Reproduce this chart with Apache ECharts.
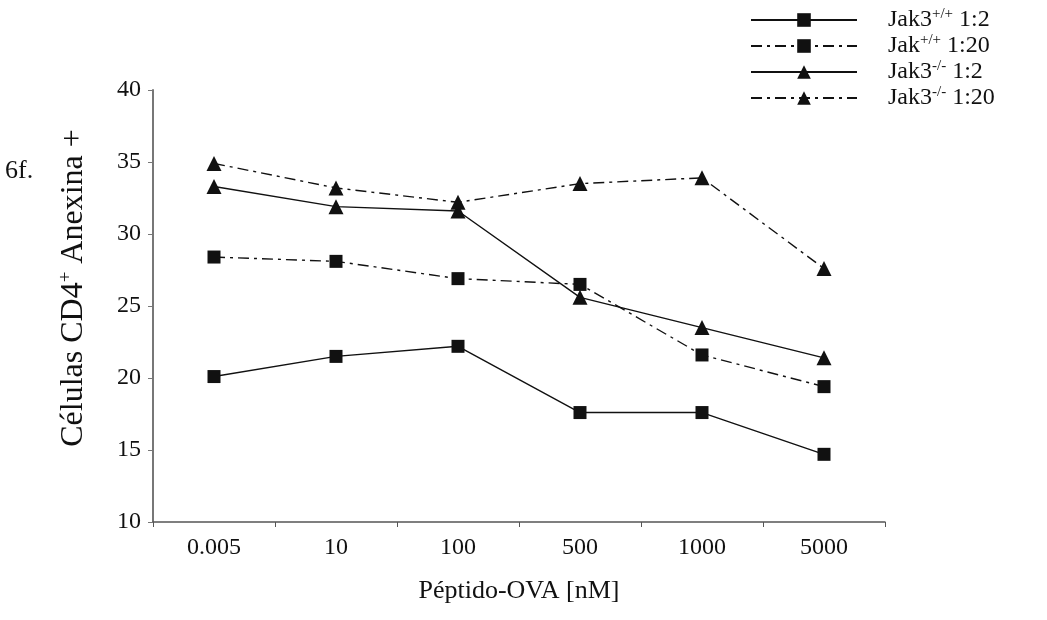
<!DOCTYPE html>
<html>
<head>
<meta charset="utf-8">
<script src="https://cdn.jsdelivr.net/npm/echarts@6/dist/echarts.min.js"></script>
<style>
  html, body { margin: 0; padding: 0; background: #fff; }
  #chart { width: 1047px; height: 620px; }
</style>
</head>
<body>
<div id="chart"></div>
<script>
// categories on the x axis (nM)
const doses = ['0.005', '10', '100', '500', '1000', '5000'];

// % CD4+ Annexin+ cells
const jak3wt_1_2  = [20.1, 21.5, 22.2, 17.6, 17.6, 14.7];
const jak3wt_1_20 = [28.4, 28.1, 26.9, 26.5, 21.6, 19.4];
const jak3ko_1_2  = [33.3, 31.9, 31.6, 25.6, 23.5, 21.4];
const jak3ko_1_20 = [34.9, 33.2, 32.2, 33.5, 33.9, 27.6];

const yTicks = [10, 15, 20, 25, 30, 35, 40];

const font = '"Liberation Serif", "DejaVu Serif", serif';
const dashDot = [11, 5, 3, 5];
const ink = '#111';

function makeSeries(name, data, symbol, dashed) {
  return {
    name: name,
    type: 'line',
    data: data,
    symbol: symbol,
    symbolSize: symbol === 'rect' ? 13 : 15,
    itemStyle: { color: ink },
    lineStyle: { color: ink, width: 1.4, type: dashed ? dashDot : 'solid' },
    animation: false
  };
}

const chart = echarts.init(document.getElementById('chart'));

chart.setOption({
  backgroundColor: '#fff',
  textStyle: { fontFamily: font },
  grid: { left: 153, right: 162, top: 90, bottom: 98 },
  legend: {
    orient: 'vertical',
    left: 745,
    top: 2,
    itemWidth: 106,
    itemHeight: 17,
    itemGap: 1,
    textStyle: {
      fontFamily: font, fontSize: 24, color: ink, padding: [0, 0, 0, 26],
      rich: {
        t: { fontFamily: font, fontSize: 24, color: ink },
        sup: { fontFamily: font, fontSize: 15, color: ink, verticalAlign: 'top', padding: [0, 0, 11, 0] }
      }
    },
    formatter: function (name) {
      const map = {
        'Jak3+/+ 1:2': '{t|Jak3}{sup|+/+}{t| 1:2}',
        'Jak+/+ 1:20': '{t|Jak}{sup|+/+}{t| 1:20}',
        'Jak3-/- 1:2': '{t|Jak3}{sup|-/-}{t| 1:2}',
        'Jak3-/- 1:20': '{t|Jak3}{sup|-/-}{t| 1:20}'
      };
      return map[name];
    }
  },
  xAxis: {
    type: 'category',
    data: doses,
    boundaryGap: true,
    name: 'Péptido-OVA [nM]',
    nameLocation: 'middle',
    nameGap: 56,
    nameTextStyle: { fontFamily: font, fontSize: 26, color: ink },
    axisLine: { lineStyle: { color: '#555', width: 1.5 } },
    axisTick: { show: true, length: 5, lineStyle: { color: '#555' } },
    axisLabel: { fontFamily: font, fontSize: 24, color: ink, margin: 14 },
    splitLine: { show: false }
  },
  yAxis: {
    type: 'value',
    min: yTicks[0],
    max: yTicks[yTicks.length - 1],
    interval: 5,
    name: '{t|Células CD4}{sup|+}{t| Anexina +}',
    nameLocation: 'middle',
    nameGap: 62,
    nameRotate: 90,
    nameTextStyle: {
      fontFamily: font, fontSize: 32, color: ink,
      padding: [0, 0, 0, 36],
      rich: {
        t: { fontFamily: font, fontSize: 32, color: ink },
        sup: { fontFamily: font, fontSize: 19, color: ink, verticalAlign: 'top', padding: [0, 0, 15, 0] }
      }
    },
    axisLine: { show: true, lineStyle: { color: '#777', width: 2 } },
    axisTick: { show: true, length: 5, lineStyle: { color: '#777' } },
    axisLabel: { fontFamily: font, fontSize: 24, color: ink, margin: 12 },
    splitLine: { show: false }
  },
  graphic: [{
    type: 'text',
    left: 5,
    top: 158,
    style: { text: '6f.', font: '26px ' + font, fill: ink }
  }],
  series: [
    makeSeries('Jak3+/+ 1:2', jak3wt_1_2, 'rect', false),
    makeSeries('Jak+/+ 1:20', jak3wt_1_20, 'rect', true),
    makeSeries('Jak3-/- 1:2', jak3ko_1_2, 'triangle', false),
    makeSeries('Jak3-/- 1:20', jak3ko_1_20, 'triangle', true)
  ]
});
</script>
</body>
</html>
